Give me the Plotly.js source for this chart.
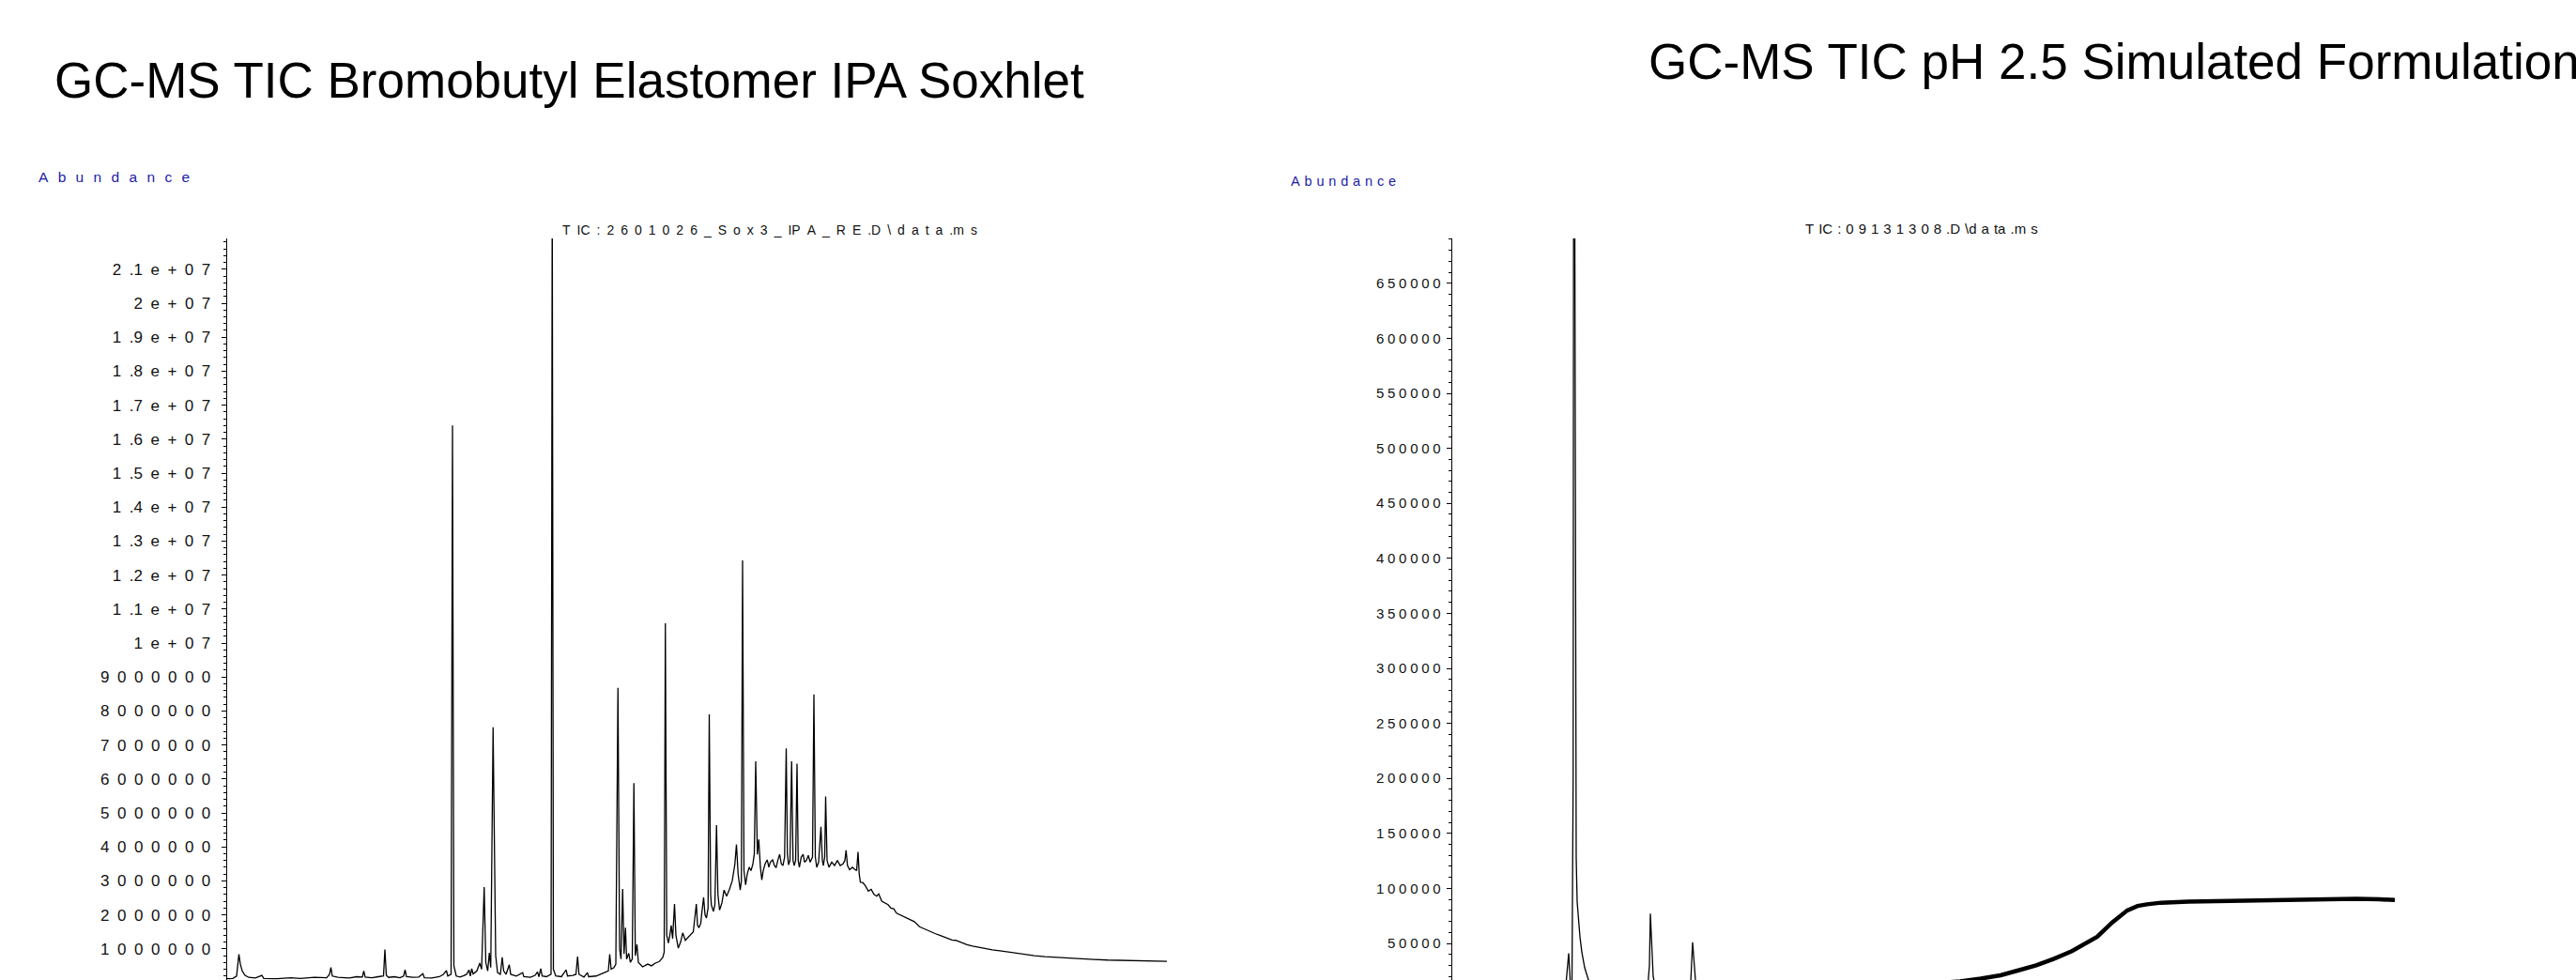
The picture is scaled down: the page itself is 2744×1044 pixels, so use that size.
<!DOCTYPE html>
<html>
<head>
<meta charset="utf-8">
<script src="https://cdn.plot.ly/plotly-3.0.1.min.js"></script>
<style>html,body{margin:0;padding:0;background:#fff;}#chart{width:2744px;height:1044px;}</style>
</head>
<body>
<div id="chart"></div>
<script>
// ---------- DATA ----------
// Left chromatogram: Bromobutyl elastomer IPA Soxhlet extract (retention time, min / TIC abundance)
const leftTime = [3.00,3.24,3.40,3.50,3.56,3.64,3.76,3.92,4.20,4.48,4.56,5.12,5.72,6.12,6.72,7.24,7.36,7.42,7.48,7.72,
8.20,8.52,8.76,8.82,8.88,9.16,9.44,9.66,9.72,9.78,9.88,10.12,10.36,10.52,10.58,10.64,10.92,11.16,11.34,11.40,
11.72,12.04,12.20,12.34,12.40,12.54,12.60,12.66,12.76,12.92,13.08,13.20,13.30,13.36,13.42,13.48,13.64,13.76,13.84,13.95,
14.02,14.10,14.17,14.23,14.33,14.39,14.44,14.52,14.64,14.72,14.78,14.88,15.02,15.08,15.32,15.59,15.64,15.92,16.12,16.22,
16.28,16.36,16.42,16.60,16.80,16.85,16.90,17.00,17.24,17.44,17.50,17.72,17.86,17.93,17.99,18.20,18.35,18.40,18.72,19.00,
19.16,19.24,19.30,19.36,19.48,19.56,19.65,19.72,19.78,19.85,19.91,19.97,20.02,20.11,20.18,20.26,20.33,20.39,20.46,20.52,
20.70,20.92,21.08,21.24,21.40,21.56,21.62,21.67,21.73,21.80,21.86,21.92,21.98,22.06,22.12,22.22,22.32,22.41,22.52,22.66,
22.76,22.86,22.99,23.04,23.10,23.18,23.22,23.30,23.36,23.42,23.49,23.54,23.60,23.63,23.72,23.78,23.85,23.91,23.98,24.08,
24.17,24.28,24.40,24.52,24.63,24.70,24.77,24.86,24.91,24.96,25.02,25.09,25.16,25.24,25.32,25.40,25.46,25.52,25.59,25.65,
25.72,25.78,25.84,25.92,26.01,26.08,26.14,26.24,26.32,26.39,26.46,26.54,26.61,26.68,26.75,26.82,26.87,26.92,26.98,27.05,
27.11,27.16,27.22,27.28,27.33,27.38,27.46,27.54,27.60,27.68,27.76,27.84,27.94,28.00,28.06,28.12,28.20,28.24,28.30,28.36,
28.40,28.46,28.50,28.56,28.64,28.76,28.88,29.00,29.12,29.24,29.32,29.37,29.43,29.52,29.64,29.72,29.82,29.88,29.93,29.98,
30.08,30.18,30.32,30.44,30.56,30.68,30.76,30.89,31.04,31.16,31.28,31.40,31.52,31.80,32.04,32.28,32.50,32.72,32.96,33.16,
33.39,33.64,33.88,34.04,34.28,34.52,34.76,35.16,35.60,36.07,36.52,36.96,37.40,37.84,38.28,38.75,39.32,39.92,40.52,41.12,
41.72,42.32,43.04];
const leftTIC = [120000,130000,200000,840000,550000,350000,220000,160000,140000,220000,130000,120000,150000,130000,160000,150000,250000,450000,200000,160000,
140000,180000,170000,350000,170000,150000,180000,200000,980000,220000,160000,180000,150000,200000,380000,180000,160000,170000,270000,150000,
140000,180000,240000,360000,200000,250000,16400000,500000,200000,170000,210000,250000,380000,200000,420000,260000,350000,580000,400000,2820000,
600000,350000,880000,450000,7520000,2600000,800000,300000,250000,750000,350000,250000,530000,250000,200000,300000,180000,160000,220000,320000,
180000,420000,200000,180000,250000,23500000,400000,200000,180000,380000,200000,220000,250000,770000,250000,170000,300000,180000,200000,280000,
330000,350000,840000,400000,450000,550000,8680000,1000000,700000,2760000,850000,1620000,700000,870000,600000,700000,5880000,800000,1130000,600000,
470000,550000,500000,580000,620000,750000,900000,10580000,1400000,1170000,1400000,1690000,1300000,2320000,1400000,1020000,1200000,1470000,1250000,1350000,
1450000,1500000,2320000,1700000,1620000,1750000,2040000,2510000,2000000,1910000,2200000,7900000,2600000,2290000,2100000,2300000,4640000,2600000,2140000,2350000,
2730000,2550000,2750000,3000000,3480000,4070000,3200000,2730000,3000000,12430000,3300000,2880000,3200000,3400000,3300000,3500000,3800000,6520000,3780000,4220000,
3400000,3030000,3300000,3500000,3620000,3400000,3550000,3620000,3450000,3390000,3600000,3780000,3500000,3450000,3700000,6900000,3800000,3470000,3600000,6520000,
3600000,3450000,3600000,6450000,3600000,3400000,3700000,3780000,3550000,3600000,3750000,3550000,3700000,8490000,3700000,3400000,3550000,3900000,4590000,3600000,
3450000,3700000,5480000,3600000,3400000,3550000,3450000,3600000,3450000,3500000,3600000,3900000,3450000,3330000,3400000,3350000,3300000,3850000,3200000,2960000,
2950000,2870000,2700000,2750000,2600000,2550000,2620000,2400000,2350000,2300000,2200000,2180000,2050000,1950000,1880000,1800000,1650000,1580000,1500000,1450000,
1390000,1320000,1260000,1250000,1180000,1120000,1080000,1020000,970000,930000,880000,840000,800000,770000,750000,730000,710000,690000,670000,660000,
650000,640000,630000];

// Right chromatogram: pH 2.5 simulated formulation, early peaks
const rightTime = [3.00,5.12,7.52,7.84,7.96,8.04,8.10,8.15,8.18,8.22,8.25,8.28,8.32,8.38,8.44,8.52,8.64,8.80,9.00,9.52,
10.72,11.32,11.40,11.44,11.50,11.56,11.64,11.92,12.92,13.16,13.24,13.30,13.36,13.48,13.92,17.12,21.12,23.12];
const rightTIC = [5000,6000,8000,12000,41000,10000,12000,200000,1100000,600000,250000,128000,88000,70000,56000,42000,28000,17000,11000,8000,
7000,8000,30000,77000,40000,20000,12000,9000,8000,15000,51000,30000,17000,11000,9000,9000,11000,13000];
// Right chromatogram: column bleed / baseline rise
const humpTime = [23.12,24.64,25.52,26.36,27.12,27.88,28.64,29.40,30.48,31.12,31.76,32.20,32.60,33.20,34.36,35.50,36.60,
37.50,38.60,39.50,40.50,41.50,42.50,43.16];
const humpTIC = [13000,15500,18000,21000,25500,30000,36000,43000,56000,69000,80000,84000,85500,87000,88000,88500,89000,
89500,90000,90000,90000,90500,90000,89500];

// Tick labels (ChemStation style, spaced glyphs)
const leftTickVals = [1e6,2e6,3e6,4e6,5e6,6e6,7e6,8e6,9e6,1e7,1.1e7,1.2e7,1.3e7,1.4e7,1.5e7,1.6e7,1.7e7,1.8e7,1.9e7,2e7,2.1e7];
const leftTickText = ['1 0 0 0 0 0 0','2 0 0 0 0 0 0','3 0 0 0 0 0 0','4 0 0 0 0 0 0','5 0 0 0 0 0 0','6 0 0 0 0 0 0','7 0 0 0 0 0 0',
'8 0 0 0 0 0 0','9 0 0 0 0 0 0','1 e + 0 7','1 .1 e + 0 7','1 .2 e + 0 7','1 .3 e + 0 7','1 .4 e + 0 7','1 .5 e + 0 7','1 .6 e + 0 7',
'1 .7 e + 0 7','1 .8 e + 0 7','1 .9 e + 0 7','2 e + 0 7','2 .1 e + 0 7'];
const rightTickVals = [50000,100000,150000,200000,250000,300000,350000,400000,450000,500000,550000,600000,650000];
const rightTickText = ['5 0 0 0 0','1 0 0 0 0 0','1 5 0 0 0 0','2 0 0 0 0 0','2 5 0 0 0 0','3 0 0 0 0 0','3 5 0 0 0 0',
'4 0 0 0 0 0','4 5 0 0 0 0','5 0 0 0 0 0','5 5 0 0 0 0','6 0 0 0 0 0','6 5 0 0 0 0'];

const leftTitle = 'GC-MS TIC Bromobutyl Elastomer IPA Soxhlet';
const rightTitle = 'GC-MS TIC pH 2.5 Simulated Formulation';
const leftFile = 'T IC : 2 6 0 1 0 2 6 _ S o x 3 _ IP A _ R E .D \\ d a t a .m s';
const rightFile = 'T IC : 0 9 1 3 1 3 0 8 .D \\d a ta .m s';
const yLabel = 'A b u n d a n c e';

// ---------- STYLE / LAYOUT ----------
const W = 2744, H = 1044;
const FONT = 'Liberation Sans, Arial, Helvetica, sans-serif';
const spaced = (s, sep) => s.split(' ').join(sep);
const SEP_L = '\u2002\u2006';
const px = v => v / W;
const py = v => (H - v) / H;

const traces = [
  {x: leftTime, y: leftTIC, type: 'scatter', mode: 'lines', xaxis: 'x', yaxis: 'y',
   line: {color: '#000', width: 1.3}, hoverinfo: 'skip'},
  {x: rightTime, y: rightTIC, type: 'scatter', mode: 'lines', xaxis: 'x2', yaxis: 'y2',
   line: {color: '#000', width: 1.3}, hoverinfo: 'skip'},
  {x: humpTime, y: humpTIC, type: 'scatter', mode: 'lines', xaxis: 'x2', yaxis: 'y2',
   line: {color: '#000', width: 4.5}, hoverinfo: 'skip'}
];

const yTop = py(254);
const commonY = {
  showgrid: false, zeroline: false, showline: true, linecolor: '#000', linewidth: 1.3,
  ticks: 'outside', ticklen: 5, tickwidth: 1, tickcolor: '#000', tickmode: 'array',
  domain: [0, yTop], fixedrange: true
};

const layout = {
  width: W, height: H, margin: {l: 0, r: 0, t: 0, b: 0},
  paper_bgcolor: '#fff', plot_bgcolor: '#fff', showlegend: false,
  xaxis: {domain: [px(242), px(1300)], range: [3, 45.32], visible: false, fixedrange: true},
  xaxis2: {domain: [px(1547), px(2605)], range: [3, 45.32], visible: false, fixedrange: true},
  yaxis: Object.assign({}, commonY, {
    anchor: 'x', range: [83000, 21906000],
    tickvals: leftTickVals, ticktext: leftTickText.map(t => spaced(t, '\u2002')),
    tickfont: {family: FONT, size: 17, color: '#111'}, ticklabelstandoff: 8,
    minor: {tickmode: 'linear', tick0: 0, dtick: 200000, ticks: 'outside', ticklen: 3, tickwidth: 1, tickcolor: '#000'}
  }),
  yaxis2: Object.assign({}, commonY, {
    anchor: 'x2', range: [16720, 690800],
    tickvals: rightTickVals, ticktext: rightTickText.map(t => spaced(t, '\u2005')),
    tickfont: {family: FONT, size: 15, color: '#111'}, ticklabelstandoff: 3,
    minor: {tickmode: 'linear', tick0: 0, dtick: 10000, ticks: 'outside', ticklen: 3, tickwidth: 1, tickcolor: '#000'}
  }),
  annotations: [
    {text: leftTitle, xref: 'paper', yref: 'paper', x: px(56), y: py(85), xanchor: 'left', yanchor: 'middle',
     showarrow: false, font: {family: FONT, size: 53, color: '#000'}},
    {text: rightTitle, xref: 'paper', yref: 'paper', x: px(1754), y: py(65.5), xanchor: 'left', yanchor: 'middle',
     showarrow: false, font: {family: FONT, size: 53, color: '#000'}},
    {text: spaced(yLabel, SEP_L), xref: 'paper', yref: 'paper', x: px(39), y: py(189), xanchor: 'left', yanchor: 'middle',
     showarrow: false, font: {family: FONT, size: 15.5, color: '#1c1ca8'}},
    {text: spaced(yLabel, '\u2004'), xref: 'paper', yref: 'paper', x: px(1373), y: py(193), xanchor: 'left', yanchor: 'middle',
     showarrow: false, font: {family: FONT, size: 14.5, color: '#1c1ca8'}},
    {text: spaced(leftFile, '\u2002'), xref: 'paper', yref: 'paper', x: px(597), y: py(245), xanchor: 'left', yanchor: 'middle',
     showarrow: false, font: {family: FONT, size: 14, color: '#111'}},
    {text: spaced(rightFile, '\u2004'), xref: 'paper', yref: 'paper', x: px(1921), y: py(244), xanchor: 'left', yanchor: 'middle',
     showarrow: false, font: {family: FONT, size: 15, color: '#111'}}
  ]
};

Plotly.newPlot('chart', traces, layout, {staticPlot: true, displayModeBar: false});
</script>
</body>
</html>
